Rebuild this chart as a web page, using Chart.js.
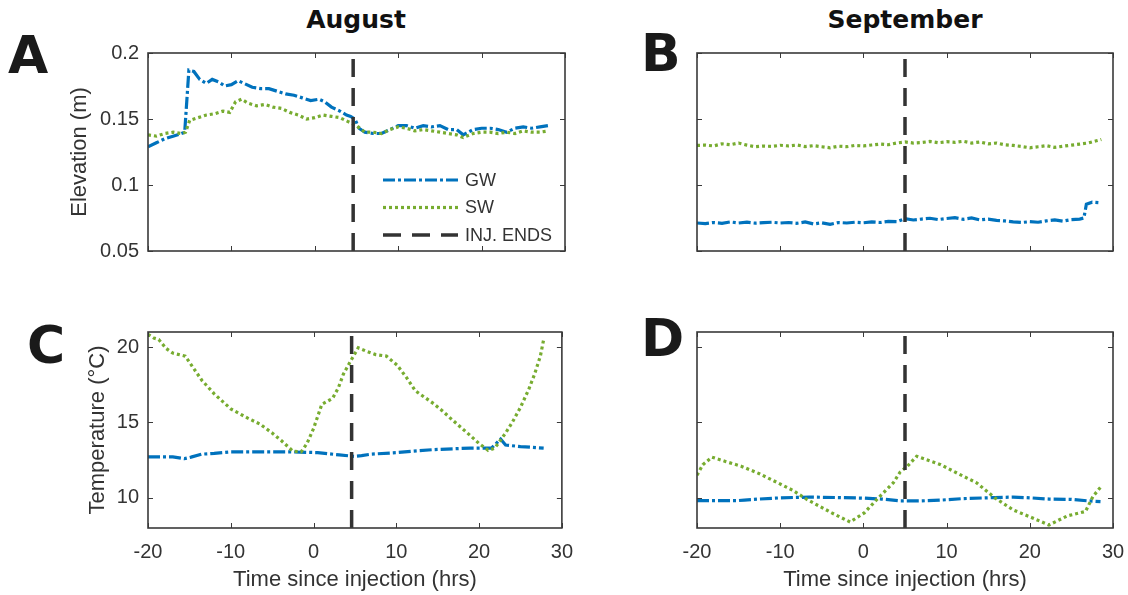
<!DOCTYPE html>
<html>
<head>
<meta charset="utf-8">
<script src="https://cdn.jsdelivr.net/npm/chart.js@4.4.1/dist/chart.umd.min.js"></script>
<style>
body { margin: 0; background: #fff; width: 1128px; height: 595px; position: relative; overflow: hidden; }
canvas { position: absolute; }
.letra { position: absolute; font-family: 'DejaVu Sans'; font-weight: bold; font-size: 52px; line-height: 1; color: #1a1a1a; }
.mes { position: absolute; font-family: 'DejaVu Sans'; font-weight: bold; font-size: 25px; line-height: 1; color: #111; text-align: center; width: 300px; }
</style>
</head>
<body>
<div class="mes" style="left:206px; top:7px">August</div>
<div class="mes" style="left:755px; top:7px">September</div>
<div class="letra" style="left:8px; top:29px">A</div>
<div class="letra" style="left:641px; top:27px">B</div>
<div class="letra" style="left:27px; top:319px">C</div>
<div class="letra" style="left:641px; top:312px">D</div>

<canvas id="panel-a" width="525" height="240" style="left:60px; top:32px"></canvas>
<canvas id="panel-b" width="449" height="221" style="left:677px; top:40px"></canvas>
<canvas id="panel-c" width="525" height="282" style="left:60px; top:311px"></canvas>
<canvas id="panel-d" width="471" height="273" style="left:667px; top:320px"></canvas>

<script>
// Ejes y marcas
const ticksTiempo = [-20, -10, 0, 10, 20, 30];
const ticksNivel = [0.05, 0.1, 0.15, 0.2];
const ticksTemp = [10, 15, 20];

// Fin de la inyección (hrs)
const finInyAgo = 4.6;
const finInySep = 5.0;

// A: nivel agosto
const tNivelAgoGW = [-20, -19, -18, -17, -16, -15.6, -15.1, -14.5, -13.8, -13.0, -12.3, -11.5, -10.8, -10.0, -9.2, -8.5, -7.5, -6.5, -5.5, -4.5, -3.5, -2.5, -1.5, -0.5, 0.5, 1.2, 2.0, 3.0, 3.8, 4.3, 4.8, 5.3, 6.0, 7.0, 8.0, 9.0, 10.0, 11.0, 12.0, 13.0, 14.0, 15.0, 16.0, 17.0, 17.8, 19.0, 20.0, 21.0, 22.0, 23.0, 24.0, 25.0, 26.0, 27.0, 28.0];
const nivelAgoGW = [0.129, 0.132, 0.135, 0.137, 0.139, 0.140, 0.187, 0.186, 0.180, 0.177, 0.180, 0.178, 0.175, 0.176, 0.179, 0.177, 0.174, 0.173, 0.173, 0.171, 0.169, 0.168, 0.166, 0.164, 0.165, 0.163, 0.159, 0.156, 0.153, 0.152, 0.150, 0.143, 0.140, 0.139, 0.139, 0.142, 0.145, 0.145, 0.143, 0.145, 0.144, 0.145, 0.142, 0.142, 0.138, 0.142, 0.143, 0.143, 0.142, 0.140, 0.143, 0.144, 0.143, 0.144, 0.145];
const tNivelAgoSW = [-20, -19, -18, -17, -16, -15.5, -15.0, -14.0, -13.0, -12.0, -11.0, -10.2, -9.5, -8.8, -8.0, -7.0, -6.0, -5.0, -4.0, -3.0, -2.0, -1.0, 0.0, 1.0, 2.0, 3.0, 4.0, 5.0, 6.0, 7.0, 8.0, 9.0, 10.0, 11.0, 12.0, 13.0, 14.0, 15.0, 16.0, 17.0, 17.8, 19.0, 20.0, 21.0, 22.0, 23.0, 24.0, 25.0, 26.0, 27.0, 28.0];
const nivelAgoSW = [0.138, 0.137, 0.139, 0.140, 0.139, 0.140, 0.149, 0.151, 0.153, 0.154, 0.156, 0.155, 0.163, 0.165, 0.162, 0.160, 0.161, 0.159, 0.158, 0.155, 0.153, 0.150, 0.151, 0.153, 0.152, 0.151, 0.148, 0.145, 0.140, 0.140, 0.139, 0.142, 0.144, 0.143, 0.141, 0.142, 0.141, 0.140, 0.139, 0.138, 0.136, 0.139, 0.140, 0.140, 0.139, 0.140, 0.139, 0.141, 0.140, 0.140, 0.141];

// B: nivel septiembre
const tNivelSepSW = [-20, -19, -18, -17, -16, -15, -14, -13, -12, -11, -10, -9, -8, -7, -6, -5, -4, -3, -2, -1, 0, 1, 2, 3, 4, 5, 6, 7, 8, 9, 10, 11, 12, 13, 14, 15, 16, 17, 18, 19, 20, 21, 22, 23, 24, 25, 26, 27, 28, 28.6];
const nivelSepSW = [0.1300, 0.1302, 0.1296, 0.1312, 0.1305, 0.1318, 0.1302, 0.1290, 0.1295, 0.1292, 0.1301, 0.1296, 0.1303, 0.1291, 0.1298, 0.1290, 0.1282, 0.1294, 0.1290, 0.1300, 0.1296, 0.1303, 0.1310, 0.1305, 0.1318, 0.1326, 0.1318, 0.1322, 0.1330, 0.1320, 0.1328, 0.1323, 0.1331, 0.1318, 0.1326, 0.1312, 0.1318, 0.1305, 0.1300, 0.1292, 0.1282, 0.1290, 0.1298, 0.1285, 0.1294, 0.1302, 0.1310, 0.1318, 0.1335, 0.1345];
const tNivelSepGW = [-20, -19, -18, -17, -16, -15, -14, -13, -12, -11, -10, -9, -8, -7, -6, -5, -4, -3, -2, -1, 0, 1, 2, 3, 4, 5, 6, 7, 8, 9, 10, 11, 12, 13, 14, 15, 16, 17, 18, 19, 20, 21, 22, 23, 24, 25, 26, 26.5, 26.8, 27.5, 28.5];
const nivelSepGW = [0.0712, 0.0708, 0.0716, 0.0710, 0.0720, 0.0712, 0.0718, 0.0711, 0.0715, 0.0718, 0.0712, 0.0716, 0.0710, 0.0720, 0.0705, 0.0714, 0.0702, 0.0716, 0.0712, 0.0718, 0.0714, 0.0720, 0.0716, 0.0724, 0.0722, 0.0745, 0.0735, 0.0742, 0.0748, 0.0738, 0.0746, 0.0752, 0.0740, 0.0750, 0.0736, 0.0742, 0.0732, 0.0728, 0.0720, 0.0716, 0.0722, 0.0718, 0.0728, 0.0735, 0.0726, 0.0738, 0.0742, 0.0750, 0.0855, 0.0870, 0.0865];

// C: temperatura agosto
const tTempAgoSW = [-20, -19.3, -18.7, -17.8, -17.0, -15.5, -14.5, -13.5, -12, -10, -8, -6.5, -5, -3.9, -2.5, -1.5, -0.8, 0, 1.0, 2.3, 3.0, 3.6, 4.5, 5.4, 6.5, 7.5, 8.8, 10.1, 11.2, 12.3, 14.5, 15.5, 16.7, 18.9, 20, 21.1, 21.9, 23.2, 24, 25, 26, 26.7, 27.4, 27.8];
const tempAgoSW = [20.85, 20.6, 20.5, 19.9, 19.6, 19.4, 18.6, 17.8, 16.9, 15.9, 15.3, 14.9, 14.3, 13.8, 13.1, 13.05, 13.6, 14.6, 16.2, 16.6, 17.3, 18.2, 19.1, 19.95, 19.7, 19.5, 19.4, 18.8, 18.0, 17.1, 16.25, 15.8, 15.2, 14.15, 13.6, 13.15, 13.3, 14.3, 15.0, 16.0, 17.2, 18.2, 19.4, 20.5];
const tTempAgoGW = [-20, -17, -15.6, -14.8, -13.5, -12, -10, -6, -3, 0.5, 3.1, 4.9, 5.8, 7, 10.1, 12, 14.5, 18.9, 21.5, 22.6, 23.2, 25, 27.8];
const tempAgoGW = [12.72, 12.72, 12.6, 12.7, 12.9, 12.95, 13.05, 13.05, 13.05, 13.0, 12.85, 12.75, 12.8, 12.9, 13.0, 13.1, 13.2, 13.3, 13.3, 13.9, 13.5, 13.4, 13.3];

// D: temperatura septiembre
const tTempSepSW = [-20, -19.3, -18.2, -16.5, -14.7, -12.5, -10.3, -8.5, -6.8, -5.3, -3.8, -1.6, 0.1, 1.8, 3.6, 4.4, 5.3, 6.4, 8, 9.3, 11.4, 13.6, 15.8, 18, 20.2, 22.3, 24.5, 26.7, 27.6, 28.5];
const tempSepSW = [11.5, 12.2, 12.7, 12.4, 12.1, 11.6, 11.0, 10.5, 9.9, 9.45, 9.0, 8.4, 9.0, 10.0, 11.0, 11.7, 12.1, 12.76, 12.45, 12.2, 11.6, 11.0, 10.0, 9.2, 8.7, 8.2, 8.8, 9.1, 10.1, 10.7];
const tTempSepGW = [-20, -15, -14.3, -12.6, -10, -6.5, -3, 0, 2.2, 4.4, 7, 9.3, 12, 15.8, 18, 20, 22.3, 25, 27, 28.5];
const tempSepGW = [9.82, 9.82, 9.85, 9.92, 10.0, 10.05, 10.02, 9.98, 9.92, 9.8, 9.8, 9.85, 9.95, 10.02, 10.05, 10.0, 9.92, 9.9, 9.8, 9.75];

const colorGW = '#0072BD';
const colorSW = '#77AC30';
const colorInj = '#333333';
const fuenteEje = 'Liberation Sans, Arial, sans-serif';

function puntos(xs, ys) {
    return xs.map((x, i) => ({ x: x, y: ys[i] }));
}

// Marco y marcas hacia dentro, estilo MATLAB
const marco = {
    id: 'marco',
    afterDatasetsDraw(chart) {
        const { ctx, chartArea: a, scales } = chart;
        ctx.save();
        ctx.strokeStyle = '#3a3a3a';
        ctx.lineWidth = 1;
        ctx.beginPath();
        scales.x.ticks.forEach(t => {
            const px = Math.round(scales.x.getPixelForValue(t.value)) + 0.5;
            ctx.moveTo(px, a.bottom); ctx.lineTo(px, a.bottom - 5);
            ctx.moveTo(px, a.top); ctx.lineTo(px, a.top + 5);
        });
        scales.y.ticks.forEach(t => {
            const py = Math.round(scales.y.getPixelForValue(t.value)) + 0.5;
            ctx.moveTo(a.left, py); ctx.lineTo(a.left + 5, py);
            ctx.moveTo(a.right, py); ctx.lineTo(a.right - 5, py);
        });
        ctx.stroke();
        ctx.lineWidth = 1.6;
        ctx.strokeRect(a.left, a.top, a.width, a.height);
        ctx.restore();
    }
};

// Leyenda dentro del panel A
const leyenda = {
    id: 'leyenda',
    afterDatasetsDraw(chart, args, opts) {
        if (!opts.mostrar) return;
        const { ctx, chartArea: a } = chart;
        const orden = [2, 1, 0];
        ctx.save();
        ctx.font = '18px ' + fuenteEje;
        ctx.textBaseline = 'middle';
        ctx.fillStyle = '#333';
        orden.forEach((idx, fila) => {
            const ds = chart.data.datasets[idx];
            const y = a.top + 127 + fila * 27.5;
            ctx.strokeStyle = ds.borderColor;
            ctx.lineWidth = ds.borderWidth;
            ctx.setLineDash(ds.borderDash);
            ctx.beginPath();
            ctx.moveTo(a.left + 235, y);
            ctx.lineTo(a.left + 310, y);
            ctx.stroke();
            ctx.fillText(ds.label, a.left + 317, y + 1);
        });
        ctx.restore();
    }
};

function crearPanel(id, cfg) {
    const ctx = document.getElementById(id);
    return new Chart(ctx, {
        type: 'line',
        data: {
            datasets: [
                {
                    label: 'INJ. ENDS',
                    data: puntos([cfg.finIny, cfg.finIny], [cfg.yMin, cfg.yMax]),
                    borderColor: colorInj, borderWidth: 3.5, borderDash: [18, 11],
                    pointRadius: 0
                },
                {
                    label: 'SW',
                    data: puntos(cfg.tSW, cfg.ySW),
                    borderColor: colorSW, borderWidth: 3.2, borderDash: [3, 3],
                    pointRadius: 0
                },
                {
                    label: 'GW',
                    data: puntos(cfg.tGW, cfg.yGW),
                    borderColor: colorGW, borderWidth: 3.2, borderDash: [12, 3, 3, 3],
                    pointRadius: 0
                }
            ]
        },
        options: {
            responsive: false,
            animation: false,
            layout: { padding: { left: 0, top: cfg.arriba, right: cfg.derecha, bottom: 0 } },
            plugins: {
                legend: { display: false },
                tooltip: { enabled: false },
                leyenda: { mostrar: !!cfg.leyenda }
            },
            scales: {
                x: {
                    type: 'linear',
                    min: -20, max: 30,
                    grid: { display: false, drawTicks: false },
                    border: { display: false },
                    afterBuildTicks: s => { s.ticks = ticksTiempo.map(v => ({ value: v })); },
                    afterFit: s => { s.height = cfg.altoX; },
                    ticks: {
                        display: cfg.etiquetasX,
                        maxRotation: 0, autoSkip: false, padding: 12,
                        color: '#333',
                        font: { family: fuenteEje, size: 20 }
                    },
                    title: {
                        display: cfg.etiquetasX,
                        text: 'Time since injection (hrs)',
                        color: '#333',
                        padding: { top: 0, bottom: 0 },
                        font: { family: fuenteEje, size: 22 }
                    }
                },
                y: {
                    type: 'linear',
                    min: cfg.yMin, max: cfg.yMax,
                    grid: { display: false, drawTicks: false },
                    border: { display: false },
                    afterBuildTicks: s => { s.ticks = cfg.yTicks.map(v => ({ value: v })); },
                    afterFit: s => { s.width = cfg.anchoY; },
                    ticks: {
                        display: !!cfg.tituloY,
                        padding: 9,
                        color: '#333',
                        font: { family: fuenteEje, size: 20 },
                        callback: v => String(v)
                    },
                    title: {
                        display: !!cfg.tituloY,
                        text: cfg.tituloY || '',
                        color: '#333',
                        padding: { top: cfg.padTitulo || 0, bottom: 0 },
                        font: { family: fuenteEje, size: 22 }
                    }
                }
            }
        },
        plugins: [marco, leyenda]
    });
}

crearPanel('panel-a', {
    tGW: tNivelAgoGW, yGW: nivelAgoGW, tSW: tNivelAgoSW, ySW: nivelAgoSW,
    finIny: finInyAgo, yMin: 0.05, yMax: 0.2, yTicks: ticksNivel,
    tituloY: 'Elevation (m)', padTitulo: 7, etiquetasX: false, leyenda: true,
    anchoY: 88, altoX: 21, arriba: 21, derecha: 20
});
crearPanel('panel-b', {
    tGW: tNivelSepGW, yGW: nivelSepGW, tSW: tNivelSepSW, ySW: nivelSepSW,
    finIny: finInySep, yMin: 0.05, yMax: 0.2, yTicks: ticksNivel,
    tituloY: null, etiquetasX: false,
    anchoY: 20, altoX: 10, arriba: 13, derecha: 13
});
crearPanel('panel-c', {
    tGW: tTempAgoGW, yGW: tempAgoGW, tSW: tTempAgoSW, ySW: tempAgoSW,
    finIny: finInyAgo, yMin: 8, yMax: 21, yTicks: ticksTemp,
    tituloY: 'Temperature (°C)', padTitulo: 25, etiquetasX: true,
    anchoY: 88, altoX: 65, arriba: 21, derecha: 20
});
crearPanel('panel-d', {
    tGW: tTempSepGW, yGW: tempSepGW, tSW: tTempSepSW, ySW: tempSepSW,
    finIny: finInySep, yMin: 8, yMax: 21, yTicks: ticksTemp,
    tituloY: null, etiquetasX: true,
    anchoY: 30, altoX: 65, arriba: 12, derecha: 25
});
</script>
</body>
</html>
